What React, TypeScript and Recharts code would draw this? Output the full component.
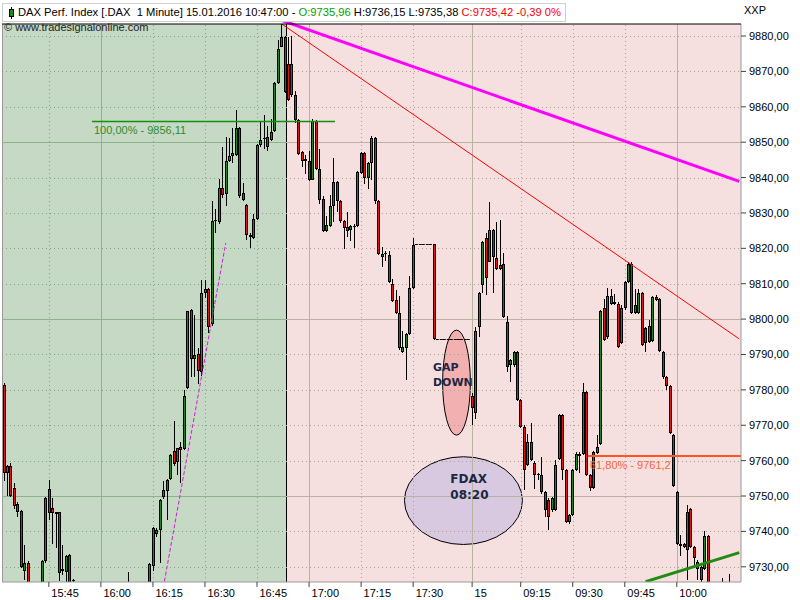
import {
  Bar,
  ComposedChart,
  ReferenceArea,
  ReferenceDot,
  ReferenceLine,
  XAxis,
  YAxis,
} from 'recharts'

// 1-minute bars: 14.01. from 15:32 (incl. after-hours till 17:46), 15.01. from 09:01
const SESSIONS = [
  { start: '15:32', bars: 135 },
  { start: '09:01', bars: 78 },
]

function minuteLabels(): string[] {
  const out: string[] = []
  for (const s of SESSIONS) {
    const [hh, mm] = s.start.split(':').map(Number)
    for (let k = 0; k < s.bars; k++) {
      const t = hh * 60 + mm + k
      out.push(`${String(Math.floor(t / 60)).padStart(2, '0')}:${String(t % 60).padStart(2, '0')}`)
    }
  }
  return out
}

const TIMES = minuteLabels()

const OPEN = [
  9781.3, 9756.6, 9758.5, 9752.4, 9747.7, 9745.7, 9728.9, 9731.2, 9724.5, 9721.0,
  9723.4, 9724.8, 9731.6, 9752.1, 9746.5, 9744.9, 9745.4, 9728.8, 9728.6, 9733.2,
  9726.4, 9725.0, 9720.2, 9717.0, 9718.8, 9720.4, 9714.6, 9716.0, 9717.9, 9714.2,
  9716.9, 9720.1, 9719.0, 9721.3, 9722.7, 9720.8, 9723.0, 9724.2, 9721.1, 9722.9,
  9724.0, 9722.5, 9724.3, 9730.2, 9739.3, 9740.3, 9749.7, 9751.4, 9754.7, 9762.6,
  9759.6, 9763.9, 9763.3, 9780.5, 9802.5, 9788.6, 9790.1, 9785.1, 9807.5, 9808.6,
  9798.7, 9827.6, 9827.5, 9837.1, 9835.4, 9844.8, 9846.0, 9846.4, 9853.9, 9835.6,
  9832.3, 9823.9, 9822.9, 9828.2, 9849.2, 9851.0, 9851.4, 9850.7, 9853.2, 9866.7,
  9877.0, 9879.7, 9872.1, 9872.1, 9863.2, 9856.3, 9847.2, 9845.2, 9844.8, 9839.4,
  9856.1, 9842.5, 9834.0, 9825.0, 9826.4, 9832.1, 9838.7, 9833.3, 9827.7, 9826.0,
  9825.2, 9826.0, 9826.2, 9841.2, 9846.9, 9839.9, 9844.1, 9851.2, 9833.3, 9817.5,
  9818.6, 9818.1, 9809.9, 9805.4, 9801.6, 9790.6, 9791.7, 9795.8, 9808.7, 9821.1,
  9821.1, 9821.1, 9821.1, 9821.1, 9821.1, 9794.3, 9794.3, 9794.3, 9794.3, 9794.3,
  9794.3, 9794.3, 9794.3, 9794.3, 9794.3, 9778.3, 9773.6, 9797.8, 9809.6, 9822.8,
  9816.2, 9825.2, 9817.2, 9815.3, 9815.5, 9799.2, 9787.0, 9787.0, 9790.6, 9777.1,
  9769.6, 9758.7, 9765.3, 9759.4, 9756.2, 9755.9, 9751.0, 9749.0, 9746.0, 9746.0,
  9760.6, 9772.9, 9757.3, 9742.7, 9744.6, 9757.3, 9762.0, 9762.0, 9779.5, 9755.9,
  9752.4, 9762.2, 9764.6, 9803.0, 9794.8, 9806.5, 9804.4, 9804.4, 9793.3, 9803.0,
  9810.6, 9815.7, 9804.0, 9801.8, 9807.3, 9793.3, 9793.6, 9793.9, 9806.3, 9805.6,
  9790.6, 9783.5, 9781.1, 9767.2, 9751.0, 9736.4, 9736.4, 9734.7, 9746.2, 9735.6,
  9729.5, 9730.0, 9729.5, 9738.7, 9722.0, 9723.1, 9721.4, 9722.8, 9723.5, 9721.7,
  9724.4, 9722.6, 9724.1,
]

const HIGH = [
  9782.0, 9758.7, 9759.2, 9753.6, 9748.3, 9746.0, 9736.1, 9731.5, 9725.2, 9724.6,
  9725.5, 9731.8, 9749.8, 9754.5, 9749.3, 9745.6, 9745.6, 9736.1, 9733.2, 9733.6,
  9726.5, 9725.4, 9722.0, 9719.5, 9721.0, 9721.2, 9716.8, 9718.6, 9719.3, 9717.5,
  9720.8, 9722.4, 9721.9, 9723.8, 9724.1, 9723.5, 9728.5, 9725.0, 9723.6, 9724.8,
  9725.3, 9724.9, 9731.2, 9741.3, 9741.0, 9749.2, 9754.2, 9754.8, 9762.0, 9771.1,
  9763.7, 9765.4, 9780.1, 9802.4, 9802.8, 9801.2, 9791.8, 9811.1, 9811.1, 9808.9,
  9833.5, 9831.0, 9839.5, 9848.7, 9851.5, 9851.2, 9853.9, 9859.1, 9854.2, 9838.6,
  9832.6, 9824.2, 9829.7, 9849.4, 9855.8, 9857.8, 9854.7, 9856.5, 9866.9, 9879.0,
  9883.5, 9880.0, 9879.7, 9879.9, 9864.6, 9856.6, 9847.5, 9846.4, 9847.6, 9856.6,
  9856.4, 9848.1, 9834.8, 9829.0, 9835.1, 9845.6, 9839.0, 9833.6, 9828.0, 9830.2,
  9826.7, 9826.9, 9841.8, 9847.2, 9847.2, 9844.4, 9851.8, 9851.5, 9833.6, 9820.3,
  9819.2, 9819.2, 9811.3, 9808.2, 9806.6, 9796.6, 9796.1, 9812.1, 9823.0, 9821.1,
  9821.1, 9821.1, 9821.1, 9821.1, 9821.3, 9794.3, 9794.3, 9794.3, 9794.3, 9794.3,
  9794.3, 9794.3, 9794.3, 9794.3, 9794.3, 9779.0, 9797.8, 9807.6, 9822.0, 9824.2,
  9833.2, 9825.5, 9827.5, 9828.0, 9818.6, 9800.8, 9788.7, 9790.9, 9790.9, 9777.4,
  9770.0, 9767.6, 9770.5, 9760.0, 9756.6, 9761.0, 9751.3, 9749.3, 9749.6, 9760.2,
  9773.3, 9773.2, 9757.6, 9744.9, 9757.6, 9762.3, 9762.3, 9782.0, 9779.8, 9756.2,
  9762.8, 9767.2, 9802.7, 9805.6, 9808.7, 9808.5, 9807.0, 9804.7, 9804.0, 9810.9,
  9816.2, 9816.0, 9808.4, 9808.4, 9807.6, 9797.9, 9799.7, 9806.6, 9806.8, 9805.9,
  9790.9, 9783.8, 9781.4, 9767.5, 9751.3, 9738.9, 9736.7, 9747.4, 9746.5, 9735.9,
  9731.9, 9730.3, 9740.0, 9739.0, 9724.2, 9725.0, 9723.9, 9726.8, 9724.6, 9728.1,
  9725.2, 9724.7, 9725.3,
]

const LOW = [
  9754.3, 9750.1, 9749.6, 9746.3, 9744.1, 9729.6, 9726.2, 9722.0, 9719.8, 9720.2,
  9722.1, 9724.0, 9731.2, 9743.2, 9736.4, 9735.3, 9726.0, 9727.6, 9725.5, 9724.5,
  9723.5, 9719.0, 9716.5, 9715.2, 9717.1, 9714.0, 9712.3, 9715.1, 9713.4, 9713.0,
  9716.0, 9718.2, 9717.7, 9720.4, 9719.9, 9719.6, 9722.1, 9720.3, 9719.8, 9721.4,
  9721.6, 9721.8, 9723.5, 9728.8, 9738.5, 9731.0, 9749.2, 9743.1, 9754.5, 9758.5,
  9755.8, 9753.7, 9763.0, 9780.3, 9783.7, 9783.5, 9781.7, 9784.0, 9806.0, 9796.0,
  9798.0, 9824.4, 9827.0, 9834.3, 9832.0, 9844.5, 9844.1, 9846.0, 9834.2, 9833.4,
  9822.4, 9820.2, 9822.6, 9828.0, 9848.7, 9848.2, 9847.5, 9850.4, 9853.0, 9866.5,
  9876.8, 9863.8, 9861.5, 9862.8, 9855.4, 9846.4, 9843.1, 9840.9, 9839.0, 9839.2,
  9842.0, 9832.4, 9824.6, 9824.6, 9826.0, 9827.4, 9830.4, 9827.3, 9819.7, 9823.1,
  9822.2, 9820.2, 9826.0, 9841.0, 9838.2, 9836.8, 9839.3, 9832.6, 9818.1, 9814.7,
  9816.4, 9810.1, 9804.9, 9801.3, 9791.4, 9790.3, 9782.8, 9795.5, 9808.4, 9821.1,
  9821.1, 9821.1, 9821.1, 9821.1, 9794.1, 9794.3, 9794.3, 9794.3, 9794.3, 9794.3,
  9794.3, 9794.3, 9794.3, 9794.3, 9794.3, 9770.0, 9771.7, 9795.0, 9807.3, 9806.8,
  9816.0, 9807.3, 9814.0, 9813.8, 9800.2, 9785.1, 9782.3, 9786.5, 9776.8, 9769.3,
  9751.6, 9758.4, 9759.8, 9752.1, 9754.4, 9750.7, 9744.1, 9740.3, 9745.6, 9745.7,
  9760.3, 9754.4, 9742.4, 9742.2, 9744.3, 9757.0, 9756.5, 9761.7, 9755.6, 9751.5,
  9752.1, 9761.9, 9764.3, 9793.8, 9794.5, 9804.1, 9804.1, 9791.9, 9793.0, 9802.7,
  9810.3, 9801.5, 9801.5, 9801.5, 9792.4, 9790.8, 9793.3, 9793.6, 9805.1, 9790.7,
  9783.2, 9779.9, 9767.6, 9752.6, 9736.1, 9733.0, 9735.3, 9726.2, 9735.3, 9730.4,
  9726.4, 9724.8, 9729.2, 9720.5, 9719.7, 9720.8, 9720.2, 9721.5, 9720.9, 9720.6,
  9722.0, 9721.3, 9722.5,
]

const CLOSE = [
  9756.4, 9758.5, 9749.9, 9747.2, 9745.4, 9730.0, 9731.2, 9724.5, 9721.0, 9723.4,
  9725.0, 9731.6, 9749.5, 9745.1, 9745.3, 9745.4, 9728.2, 9729.3, 9733.0, 9725.5,
  9726.2, 9720.2, 9717.0, 9718.8, 9720.4, 9714.6, 9716.0, 9717.9, 9714.2, 9716.9,
  9720.1, 9719.0, 9721.3, 9722.7, 9720.8, 9723.0, 9724.2, 9721.1, 9722.9, 9724.0,
  9722.5, 9724.3, 9730.8, 9740.9, 9740.5, 9749.0, 9751.7, 9754.6, 9761.7, 9759.1,
  9763.5, 9763.1, 9778.4, 9802.2, 9788.6, 9789.9, 9785.4, 9807.5, 9808.4, 9797.9,
  9827.8, 9828.1, 9837.1, 9835.1, 9844.8, 9846.0, 9847.0, 9853.9, 9834.8, 9833.7,
  9823.9, 9823.1, 9828.2, 9849.2, 9850.5, 9851.3, 9848.7, 9853.0, 9866.7, 9876.2,
  9879.7, 9864.1, 9861.8, 9863.2, 9856.3, 9846.7, 9844.6, 9844.7, 9839.4, 9856.1,
  9842.3, 9833.8, 9825.0, 9826.5, 9832.1, 9838.7, 9833.3, 9827.7, 9825.8, 9824.8,
  9826.4, 9826.2, 9841.5, 9846.9, 9839.9, 9844.1, 9851.2, 9833.3, 9818.4, 9818.4,
  9818.8, 9810.4, 9805.2, 9801.6, 9791.7, 9792.2, 9795.8, 9808.7, 9821.0, 9821.1,
  9821.1, 9821.1, 9821.1, 9821.1, 9794.3, 9794.3, 9794.3, 9794.3, 9794.3, 9794.3,
  9794.3, 9794.3, 9794.3, 9794.3, 9794.3, 9775.0, 9796.7, 9807.3, 9821.7, 9811.5,
  9825.2, 9817.6, 9814.3, 9814.1, 9800.5, 9786.5, 9788.4, 9790.6, 9777.1, 9769.6,
  9757.3, 9765.3, 9760.1, 9755.9, 9755.8, 9751.0, 9746.0, 9744.0, 9749.3, 9758.7,
  9773.0, 9757.3, 9742.7, 9744.6, 9757.3, 9762.0, 9761.3, 9779.5, 9755.9, 9752.4,
  9762.5, 9763.9, 9802.4, 9794.1, 9806.5, 9804.4, 9804.9, 9792.2, 9803.0, 9810.6,
  9815.7, 9801.8, 9801.8, 9807.3, 9792.7, 9797.6, 9798.0, 9806.3, 9805.4, 9791.0,
  9783.5, 9781.1, 9767.9, 9752.9, 9736.4, 9735.8, 9735.6, 9745.5, 9735.6, 9732.4,
  9731.4, 9726.2, 9738.7, 9722.0, 9723.1, 9721.4, 9722.8, 9723.5, 9721.7, 9724.4,
  9722.6, 9724.1, 9723.0,
]

const Y_DOMAIN: [number, number] = [9725.7, 9883.4]
const Y_TICKS = [9730, 9740, 9750, 9760, 9770, 9780, 9790, 9800, 9810, 9820, 9830, 9840, 9850, 9860, 9870, 9880]
const X_TICKS = ['15:45', '16:00', '16:15', '16:30', '16:45', '17:00', '17:15', '17:30', '09:01', '09:15', '09:30', '09:45', '10:00']
const X_SOLID = ['16:00', '17:00', '09:01', '10:00']
const DATE_TICK = { at: '09:01', label: '15' }
const SPLIT_BAR = 82 // end of 14.01. shading

// drawing tools: [bar index, price]
const TREND_MAGENTA: [number, number][] = [[68, 9888.6], [212, 9838.9]]
const TREND_RED: [number, number][] = [[80, 9883.5], [212, 9794.4]]
const TREND_STEEP: [number, number][] = [[46, 9724.2], [64, 9821.5]]
const TREND_GREEN: [number, number][] = [[185, 9725.8], [212, 9734.0]]
const FIB_100 = { price: 9856.11, from: 26, to: 95, label: '100,00% - 9856,11' }
const FIB_618 = { price: 9761.2, from: 169, to: 212, label: '61,80% - 9761,2' }
const GAP_OVAL = { from: 127, to: 134, top: 9796.9, bottom: 9767.2, text: ['GAP', 'DOWN'], textBar: 124, textPrice: 9786.5 }
const FDAX_OVAL = { from: 116, to: 149, top: 9761.1, bottom: 9736.3, text: ['FDAX', '08:20'], textBar: 129, textPrice: 9754.8 }

const FONT = '"Liberation Sans", Arial, sans-serif'
const BOLD_FONT = '"DejaVu Sans", Verdana, sans-serif'
const UP = '#1b8a1b'
const DOWN = '#e51414'
const GRID = {
  green: { solid: '#8db28d', dot: '#7fa57f' },
  pink: { solid: '#b9b3a1', dot: '#a9a290' },
}

const data = TIMES.map((t, i) => ({ t, o: OPEN[i], h: HIGH[i], l: LOW[i], c: CLOSE[i] }))

function Candle(props: any) {
  const { x, y, width, height, payload } = props
  const { o, h, l, c } = payload
  const cx = Math.round(x + width / 2)
  if (h - l < 0.05) {
    const yy = Math.round(y) + 0.5
    return <line x1={cx - 1.2} x2={cx + 1.8} y1={yy} y2={yy} stroke="#000" />
  }
  const k = height / (h - l)
  const yOf = (v: number) => y + (h - v) * k
  const top = Math.round(yOf(Math.max(o, c)))
  const bot = Math.round(yOf(Math.min(o, c)))
  const color = c >= o ? UP : DOWN
  return (
    <g>
      <line x1={cx + 0.5} x2={cx + 0.5} y1={Math.round(y)} y2={Math.round(y + height)} stroke="#000" />
      {bot - top < 2 ? (
        <rect x={cx - 1} y={top} width={3} height={Math.max(bot - top, 1)} fill="#111" />
      ) : (
        <rect x={cx - 0.5} y={top + 0.5} width={2} height={bot - top - 1} fill={color} stroke="#000" />
      )}
    </g>
  )
}

const hLine = (stroke: string, strokeWidth = 1, dash?: string) => (p: any) => {
  const yy = Math.round(p.y) + (strokeWidth % 2 ? 0.5 : 0)
  return (
    <line x1={Math.round(p.x)} x2={p.x + p.width} y1={yy} y2={yy}
      stroke={stroke} strokeWidth={strokeWidth} strokeDasharray={dash} />
  )
}

const vLine = (stroke: string, dash?: string) => (p: any) => {
  const xx = Math.round(p.x1) + 0.5
  return <line x1={xx} x2={xx} y1={p.y1} y2={p.y2} stroke={stroke} strokeDasharray={dash} />
}

const region = (fill: string, edge: string) => (p: any) => (
  <g>
    <rect x={p.x} y={p.y} width={p.width} height={p.height} fill={fill} />
    <line x1={Math.round(p.x) + 0.5} x2={Math.round(p.x) + 0.5} y1={p.y} y2={p.y + p.height} stroke={edge} />
  </g>
)

const oval = (fill: string) => (p: any) => (
  <ellipse cx={p.x + p.width / 2} cy={p.y + p.height / 2} rx={p.width / 2} ry={p.height / 2}
    fill={fill} stroke="#000" strokeWidth={1} />
)

const ovalText = (lines: string[], size: number, lineGap: number) => (p: any) => (
  <g fontFamily={BOLD_FONT} fontWeight="bold" fontSize={size} fill="#1b2742">
    {lines.map((s, i) => (
      <text key={s} x={p.cx - 1} y={p.cy + i * lineGap} dy={size * 0.36}>{s}</text>
    ))}
  </g>
)

const levelText = (text: string, color: string) => (p: any) => (
  <text x={Math.round(p.cx)} y={p.cy + 13} fontFamily={FONT} fontSize={11} fill={color}>{text}</text>
)

function XTick(p: any) {
  const v = p.payload.value
  return (
    <text x={p.x + 2.5} y={p.y} dy={8} fontFamily={FONT} fontSize={11} fill="#000" textAnchor="start">
      {v === DATE_TICK.at ? DATE_TICK.label : v}
    </text>
  )
}

function YTick(p: any) {
  return (
    <text x={p.x} y={p.y} dy={4} fontFamily={FONT} fontSize={11} fill="#000" textAnchor="start">
      {p.payload.value.toFixed(2).replace('.', ',')}
    </text>
  )
}

const seg = (pts: [number, number][]) => pts.map(([b, v]) => ({ x: TIMES[b], y: v }))

export default function App() {
  const last = TIMES.length - 1
  return (
    <div style={{ position: 'absolute', left: 0, top: 0, width: 800, height: 600, background: '#fff', overflow: 'hidden' }}>
      <ComposedChart width={800} height={600} data={data} barCategoryGap={0}
        margin={{ top: 24, right: 0, bottom: 0, left: 2 }}>
        <XAxis dataKey="t" type="category" ticks={X_TICKS} interval={0} height={18}
          tick={<XTick />} tickSize={5} tickMargin={2}
          axisLine={{ stroke: '#9a9a9a' }} tickLine={{ stroke: '#444' }} />
        <YAxis orientation="right" type="number" domain={Y_DOMAIN} allowDataOverflow ticks={Y_TICKS}
          width={59} tick={<YTick />} tickSize={5} tickMargin={3}
          axisLine={{ stroke: '#9a9a9a' }} tickLine={{ stroke: '#444' }} />

        {/* session shading */}
        <ReferenceArea x1={TIMES[0]} x2={TIMES[SPLIT_BAR - 1]} ifOverflow="hidden" zIndex={-30}
          shape={region('#c6d9c5', '#9a9a9a')} />
        <ReferenceArea x1={TIMES[SPLIT_BAR]} x2={TIMES[last]} ifOverflow="hidden" zIndex={-30}
          shape={region('#f5dfdf', '#000')} />

        {/* annotation ovals */}
        <ReferenceArea x1={TIMES[GAP_OVAL.from]} x2={TIMES[GAP_OVAL.to]} y1={GAP_OVAL.bottom} y2={GAP_OVAL.top}
          ifOverflow="visible" zIndex={-25} shape={oval('#f3b0b0')} />
        <ReferenceArea x1={TIMES[FDAX_OVAL.from]} x2={TIMES[FDAX_OVAL.to]} y1={FDAX_OVAL.bottom} y2={FDAX_OVAL.top}
          ifOverflow="visible" zIndex={-25} shape={oval('#d9c9e0')} />

        {/* grid */}
        {Y_TICKS.map((v) => {
          const solid = v % 50 === 0
          return [
            <ReferenceArea key={`g${v}`} x1={TIMES[0]} x2={TIMES[SPLIT_BAR - 1]} y1={v} y2={v} zIndex={-20}
              shape={hLine(solid ? GRID.green.solid : GRID.green.dot, 1, solid ? undefined : '1 3')} />,
            <ReferenceArea key={`p${v}`} x1={TIMES[SPLIT_BAR]} x2={TIMES[last]} y1={v} y2={v} zIndex={-20}
              shape={hLine(solid ? GRID.pink.solid : GRID.pink.dot, 1, solid ? undefined : '1 3')} />,
          ]
        })}
        {X_TICKS.map((t) => {
          const solid = X_SOLID.includes(t)
          const g = TIMES.indexOf(t) < SPLIT_BAR ? GRID.green : GRID.pink
          return (
            <ReferenceLine key={`v${t}`} x={t} zIndex={-20}
              shape={vLine(solid ? g.solid : g.dot, solid ? undefined : '1 3')} />
          )
        })}

        <Bar dataKey={(d: any) => [d.l, d.h === d.l ? d.h + 0.02 : d.h]} shape={<Candle />}
          isAnimationActive={false} />

        {/* drawing tools */}
        <ReferenceLine segment={seg(TREND_STEEP)} stroke="#d41cd4" strokeWidth={1} strokeDasharray="4 2"
          ifOverflow="hidden" zIndex={450} />
        <ReferenceLine segment={seg(TREND_RED)} stroke="#ff0000" strokeWidth={1} ifOverflow="hidden" zIndex={450} />
        <ReferenceLine segment={seg(TREND_MAGENTA)} stroke="#ff00ff" strokeWidth={3} ifOverflow="visible" zIndex={450} />
        <ReferenceLine segment={seg(TREND_GREEN)} stroke="#228b14" strokeWidth={3} ifOverflow="hidden" zIndex={450} />
        <ReferenceArea x1={TIMES[FIB_100.from]} x2={TIMES[FIB_100.to]} y1={FIB_100.price} y2={FIB_100.price}
          zIndex={450} shape={hLine('#129012', 1.5)} />
        <ReferenceArea x1={TIMES[FIB_618.from]} x2={TIMES[FIB_618.to]} y1={FIB_618.price} y2={FIB_618.price}
          zIndex={450} shape={hLine('#ff5522', 2)} />
        <ReferenceDot x={TIMES[FIB_100.from]} y={FIB_100.price} zIndex={600}
          shape={levelText(FIB_100.label, '#2f8a2f')} />
        <ReferenceDot x={TIMES[FIB_618.from]} y={FIB_618.price} zIndex={600}
          shape={levelText(FIB_618.label, '#ff6438')} />
        <ReferenceDot x={TIMES[GAP_OVAL.textBar]} y={GAP_OVAL.textPrice} zIndex={600}
          shape={ovalText(GAP_OVAL.text, 11, 15.6)} />
        <ReferenceDot x={TIMES[FDAX_OVAL.textBar]} y={FDAX_OVAL.textPrice} zIndex={600}
          shape={ovalText(FDAX_OVAL.text, 12, 15.5)} />

        <ReferenceLine y={Y_DOMAIN[1]} stroke="#000" zIndex={600} />
      </ComposedChart>

      <div style={{
        position: 'absolute', left: 2, top: 3, height: 17, paddingLeft: 15, paddingRight: 4,
        border: '1px solid #cfcfcf', background: '#fff', fontFamily: FONT, fontSize: 11.2,
        lineHeight: '17px', whiteSpace: 'nowrap', color: '#000',
      }}>
        <svg width={7} height={12} style={{ position: 'absolute', left: 5, top: 3 }}>
          <line x1={3.5} x2={3.5} y1={0} y2={12} stroke="#000" />
          <rect x={1.5} y={2.5} width={4} height={7} fill="#1b8a1b" stroke="#000" />
        </svg>
        DAX Perf. Index [.DAX&nbsp;&nbsp;1 Minute] 15.01.2016 10:47:00 - <span style={{ color: '#00a000' }}>O:9735,96</span>{' '}
        H:9736,15 L:9735,38 <span style={{ color: '#ff0000' }}>C:9735,42 -0,39 0%</span>
      </div>
      <div style={{ position: 'absolute', left: 4, top: 21, fontFamily: FONT, fontSize: 11, color: '#222' }}>
        © www.tradesignalonline.com
      </div>
      <div style={{ position: 'absolute', left: 744, top: 4, fontFamily: FONT, fontSize: 11, color: '#000' }}>
        XXP
      </div>
    </div>
  )
}
